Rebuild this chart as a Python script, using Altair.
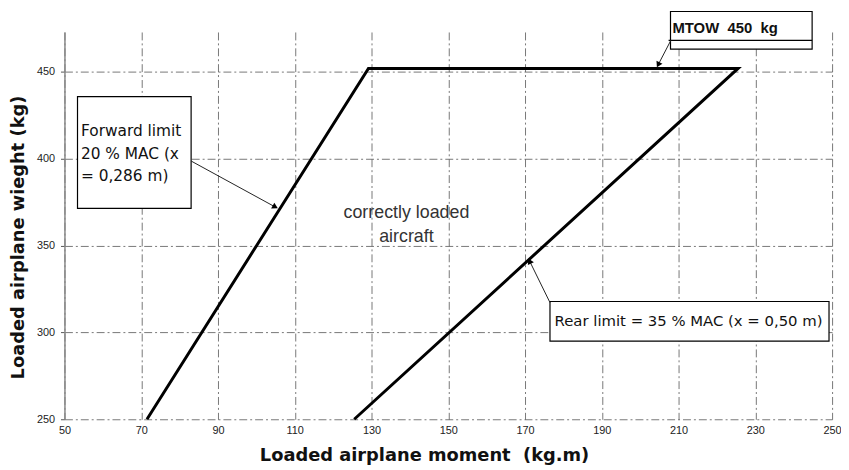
import altair as alt
import pandas as pd

# ---- data ----
moment_ticks = [50, 70, 90, 110, 130, 150, 170, 190, 210, 230, 250]
weight_ticks = [250, 300, 350, 400, 450]

# centre-of-gravity envelope: forward limit -> MTOW -> rear limit
env_moment = [71.5, 129.2, 225.5, 125.5]
env_weight = [250, 452, 452, 250]

env = pd.DataFrame({"moment": env_moment, "weight": env_weight, "order": list(range(len(env_moment)))})

NB = "\u00a0"

# ---- annotations (data coordinates) ----
boxes = pd.DataFrame({
    "x": [53.4, 207.9, 176.5],
    "x2": [83.0, 244.8, 249.2],
    "y": [371.4, 463.1, 295.0],
    "y2": [435.8, 484.8, 317.8],
})
box_lines = pd.DataFrame({"x": [207.4], "x2": [244.8], "y": [468.2]})

fwd_text = pd.DataFrame({
    "x": [54.3, 54.3, 54.3],
    "y": [415.8, 402.7, 390.2],
    "t": ["Forward limit", "20 % MAC (x", "= 0,286 m)"],
})
rear_text = pd.DataFrame({"x": [177.7], "y": [306.4], "t": ["Rear limit = 35 % MAC (x = 0,50 m)"]})
mtow_text = pd.DataFrame({"x": [208.4], "y": [475.1], "t": ["MTOW" + NB * 2 + "450" + NB * 2 + "kg"]})
mid_text = pd.DataFrame({"x": [139.1, 139.1], "y": [368.5, 354.8], "t": ["correctly loaded", "aircraft"]})

arrows = pd.DataFrame({
    "x": [83.0, 208.0, 176.5],
    "y": [398.7, 468.2, 317.2],
    "x2": [104.7, 204.8, 171.3],
    "y2": [372.5, 454.6, 340.6],
    "ang": [118.7, 206.6, 334.0],
})

xs = alt.Scale(domain=[50, 250], nice=False, zero=False)
ys = alt.Scale(domain=[250, 473], nice=False, zero=False)

x_axis = alt.Axis(
    values=moment_ticks, title="Loaded airplane moment" + NB * 2 + "(kg.m)",
    grid=True, gridDash=[8, 3, 2, 3], gridColor="#555", gridWidth=0.8,
    domain=False, ticks=False, labelPadding=5, labelFlush=False,
    labelFont="Liberation Sans", labelFontSize=11, labelColor="#222",
    titleFont="DejaVu Sans", titleFontSize=18, titleFontWeight="bold", titleColor="#111",
    titleX=363, titleY=42, titleBaseline="alphabetic",
)
y_axis = alt.Axis(
    values=weight_ticks, title="Loaded airplane wieght (kg)",
    grid=True, gridDash=[8, 3, 2, 3], gridColor="#555", gridWidth=0.8,
    domain=True, domainColor="#888", domainWidth=1.5,
    ticks=True, tickSize=4, tickColor="#555", labelPadding=6, labelFlush=False,
    labelFont="Liberation Sans", labelFontSize=11, labelColor="#222",
    titleFont="DejaVu Sans", titleFontSize=18, titleFontWeight="bold", titleColor="#111",
    titleX=-41, titleY=207, titleAngle=270, titleBaseline="alphabetic",
)

envelope = alt.Chart(env).mark_line(color="black", strokeWidth=3).encode(
    x=alt.X("moment:Q", scale=xs, axis=x_axis),
    y=alt.Y("weight:Q", scale=ys, axis=y_axis),
    order="order:Q",
)

rects = alt.Chart(boxes).mark_rect(fill="white", stroke="black", strokeWidth=1.2).encode(
    x=alt.X("x:Q", scale=xs), x2="x2:Q",
    y=alt.Y("y:Q", scale=ys), y2="y2:Q",
)
inner = alt.Chart(box_lines).mark_rule(color="black", strokeWidth=1.2).encode(
    x=alt.X("x:Q", scale=xs), x2="x2:Q", y=alt.Y("y:Q", scale=ys),
)

def text_layer(df, size, font, weight="normal", align="left", color="#111"):
    return alt.Chart(df).mark_text(
        align=align, baseline="middle", fontSize=size, font=font, fontWeight=weight, color=color
    ).encode(x=alt.X("x:Q", scale=xs), y=alt.Y("y:Q", scale=ys), text="t:N")

t1 = text_layer(fwd_text, 15.5, "DejaVu Sans")
t2 = text_layer(rear_text, 15, "DejaVu Sans")
t3 = text_layer(mtow_text, 15, "Liberation Sans", weight="bold")
t4 = text_layer(mid_text, 18, "Liberation Sans", align="center", color="#333")

arrow_lines = alt.Chart(arrows).mark_rule(color="#222", strokeWidth=1).encode(
    x=alt.X("x:Q", scale=xs), y=alt.Y("y:Q", scale=ys), x2="x2:Q", y2="y2:Q",
)
arrow_heads = alt.Chart(arrows).mark_point(shape="triangle", filled=True, color="black", size=45, opacity=1).encode(
    x=alt.X("x2:Q", scale=xs), y=alt.Y("y2:Q", scale=ys),
    angle=alt.Angle("ang:Q", scale=None),
)

chart = alt.layer(envelope, rects, inner, t1, t2, t3, t4, arrow_lines, arrow_heads).properties(
    width=775, height=391,
    autosize=alt.AutoSizeParams(type="none"),
    padding={"left": 57, "top": 22, "right": 9, "bottom": 49},
).configure_view(strokeWidth=0)

chart.save("out.html", embed_options={"renderer": "svg", "actions": False})
